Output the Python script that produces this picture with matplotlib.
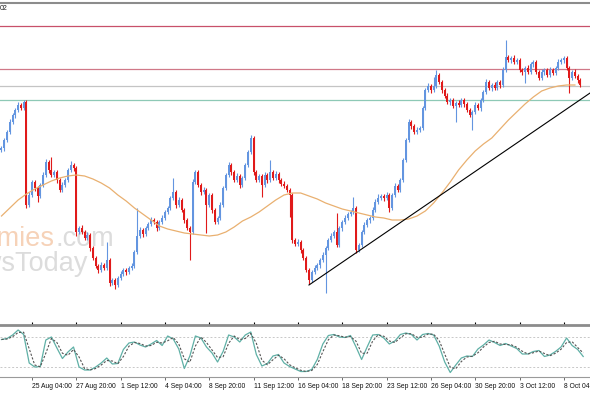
import numpy as np
import pandas as pd
import matplotlib
matplotlib.use("Agg")
import matplotlib.pyplot as plt
from matplotlib.transforms import blended_transform_factory

# ---------------- data (price levels, H4 bars) ----------------
first_open = 250
close = [
    252, 260, 268, 278, 285, 290, 295, 292, 298, 195,
    205, 218, 212, 204, 215, 225, 238, 230, 225, 228,
    220, 210, 215, 220, 230, 235, 232, 168, 172, 168,
    162, 165, 152, 142, 134, 130, 135, 132, 140, 117,
    120, 115, 122, 126, 130, 128, 132, 134, 148, 164,
    170, 166, 172, 176, 180, 178, 172, 178, 182, 188,
    192, 202, 208, 195, 200, 190, 180, 172, 168, 218,
    228, 215, 208, 210, 195, 205, 190, 178, 182, 195,
    212, 225, 235, 228, 220, 224, 215, 222, 235, 248,
    262, 228, 220, 224, 215, 225, 220, 228, 222, 226,
    220, 216, 214, 210, 205, 160, 156, 158, 150, 142,
    130, 120, 128, 132, 135, 140, 145, 152, 160, 164,
    168, 155, 172, 178, 182, 186, 188, 192, 150, 155,
    168, 175, 180, 182, 190, 198, 202, 204, 202, 205,
    192, 205, 214, 210, 220, 240, 260, 278, 274, 268,
    270, 272, 292, 310, 314, 310, 314, 325, 318, 310,
    304, 298, 300, 294, 297, 295, 300, 296, 290, 285,
    288, 295, 292, 300, 308, 318, 312, 315, 312, 318,
    315, 330, 343, 340, 342, 338, 340, 330, 328, 332,
    328, 336, 338, 328, 322, 328, 330, 325, 330, 327,
    332, 338, 340, 342, 332, 322, 328, 324, 320, 315,
]
up_wick = [
    2, 2, 2, 3, 2, 2, 3, 2, 2, 2,
    3, 2, 2, 2, 2, 3, 3, 2, 13, 2,
    2, 2, 3, 2, 2, 4, 2, 2, 2, 3,
    2, 3, 2, 2, 2, 2, 3, 2, 18, 2,
    2, 2, 2, 3, 2, 2, 2, 3, 2, 28,
    3, 2, 2, 2, 3, 2, 2, 2, 3, 2,
    2, 2, 14, 2, 3, 2, 2, 2, 2, 3,
    2, 2, 2, 3, 2, 2, 2, 2, 2, 3,
    2, 2, 3, 2, 2, 3, 2, 2, 2, 2,
    3, 2, 2, 2, 2, 3, 2, 12, 2, 3,
    2, 2, 3, 2, 2, 2, 2, 3, 2, 2,
    2, 2, 2, 3, 2, 2, 3, 2, 2, 3,
    2, 19, 2, 2, 3, 2, 2, 11, 2, 2,
    2, 3, 2, 2, 3, 3, 4, 2, 2, 3,
    2, 2, 3, 2, 2, 2, 2, 3, 2, 2,
    3, 2, 2, 2, 3, 2, 9, 5, 2, 2,
    2, 3, 2, 2, 2, 3, 2, 2, 2, 2,
    2, 3, 2, 2, 2, 3, 2, 2, 3, 2,
    2, 3, 17, 2, 2, 3, 2, 2, 2, 2,
    3, 2, 2, 2, 2, 3, 2, 2, 3, 2,
    2, 3, 2, 2, 2, 2, 2, 3, 2, 2,
]
down_wick = [
    2, 3, 2, 2, 2, 3, 2, 2, 2, 3,
    2, 2, 3, 6, 2, 2, 2, 3, 2, 2,
    3, 2, 2, 2, 2, 2, 3, 4, 2, 2,
    2, 2, 3, 2, 2, 3, 2, 2, 2, 3,
    2, 4, 2, 2, 2, 3, 2, 2, 2, 2,
    2, 3, 2, 2, 2, 2, 3, 2, 2, 2,
    2, 2, 2, 3, 2, 2, 3, 2, 28, 2,
    2, 2, 3, 2, 28, 2, 3, 2, 2, 2,
    2, 2, 2, 3, 2, 2, 3, 2, 2, 2,
    2, 3, 2, 2, 12, 2, 3, 2, 2, 2,
    3, 2, 2, 2, 22, 3, 2, 2, 3, 2,
    2, 4, 2, 2, 2, 3, 2, 38, 2, 2,
    2, 2, 2, 3, 2, 2, 2, 2, 3, 2,
    2, 2, 2, 3, 2, 2, 2, 2, 3, 2,
    4, 2, 2, 2, 2, 2, 2, 2, 3, 2,
    2, 2, 2, 2, 2, 3, 2, 2, 2, 3,
    2, 2, 3, 2, 16, 2, 2, 3, 2, 2,
    15, 2, 2, 3, 2, 2, 2, 3, 2, 2,
    3, 2, 2, 2, 3, 2, 2, 2, 3, 11,
    2, 2, 3, 2, 2, 2, 3, 2, 2, 2,
    2, 2, 2, 3, 2, 15, 2, 2, 3, 2,
]
# moving average, read every 3rd bar
ma_step = 3
ma_values = [
    184, 192, 200, 206, 211, 215, 219, 222, 224, 225,
    224, 221, 217, 212, 205, 199, 192, 186, 180, 174,
    171, 169, 167, 166, 165, 164, 165, 168, 173, 179,
    183, 188, 194, 200, 205, 207, 207, 204, 201, 197,
    194, 191, 189, 187, 185, 183, 182, 180, 180, 181,
    184, 189, 197, 207, 218, 230, 240, 249, 256, 262,
    271, 280, 288, 296, 303, 309, 312, 314, 315, 315,
]
# stochastic %K, read every 2nd bar
stoch_step = 2
stoch_k = [
    75, 77, 84, 94, 85, 28, 20, 21, 74, 80,
    58, 37, 50, 60, 20, 14, 14, 20, 28, 38,
    26, 27, 55, 68, 70, 64, 60, 66, 73, 63,
    82, 76, 56, 17, 42, 82, 78, 60, 48, 30,
    51, 84, 80, 70, 84, 90, 45, 22, 27, 42,
    45, 28, 21, 16, 11, 11, 15, 35, 66, 83,
    85, 80, 79, 83, 60, 35, 60, 84, 85, 78,
    66, 72, 85, 88, 85, 74, 85, 87, 84, 62,
    30, 9, 24, 38, 42, 41, 56, 64, 74, 69,
    63, 67, 62, 57, 46, 46, 51, 53, 41, 44,
    51, 60, 78, 63, 55, 41,
]
stoch_levels = [80, 20]
h_levels = [374, 331, 314, 300]
h_colors = ["#c8506a", "#d07888", "#c4c4c4", "#8ec9b6"]
trend_bars = [111, 213]
trend_vals = [115, 308]
tick_bars = [-5, 11, 27, 43, 59, 75, 91, 107, 123, 139, 155, 171, 187, 203]
tick_labels = ["20 Aug 12:00", "25 Aug 04:00", "27 Aug 20:00", "1 Sep 12:00",
               "4 Sep 04:00", "8 Sep 20:00", "11 Sep 12:00", "16 Sep 04:00",
               "18 Sep 20:00", "23 Sep 12:00", "26 Sep 04:00", "30 Sep 20:00",
               "3 Oct 12:00", "8 Oct 04:00"]

# ---------------- derived ----------------
close = np.array(close, dtype=float)
opn = np.concatenate([[first_open], close[:-1]])
high = np.maximum(opn, close) + np.array(up_wick)
low = np.minimum(opn, close) - np.array(down_wick)
x = np.arange(len(close))
bull = close >= opn

W, H = 590, 393
fig = plt.figure(figsize=(W / 100, H / 100), dpi=100)
plt.rcParams['font.family'] = ['Liberation Sans', 'DejaVu Sans']

def fy(px):
    return 1 - px / H

ax = fig.add_axes([0, fy(322), 1, (322 - 3) / H])
ax2 = fig.add_axes([0, fy(377), 1, (377 - 325) / H], sharex=ax)

xlim = (-0.54, 212.45)
ax.set_xlim(*xlim)
ax.set_ylim(78, 397)

BLUE = "#6395e0"
RED = "#e01a1a"
cols = np.where(bull, BLUE, RED)

# watermark
ax.text(55 / W, fy(239), "Economies", transform=fig.transFigure, ha="right", va="center",
        fontsize=19.5, color="#f6d2b8", zorder=0)
ax.text(56 / W, fy(239), ".com", transform=fig.transFigure, ha="left", va="center",
        fontsize=19.5, color="#dcdcdc", zorder=0)
ax.text(88 / W, fy(264), "NewsToday", transform=fig.transFigure, ha="right", va="center",
        fontsize=19.5, color="#dcdcdc", zorder=0)

for lv, c in zip(h_levels, h_colors):
    ax.axhline(lv, color=c, lw=0.9, zorder=1)

ax.vlines(x, low, high, colors=cols, lw=0.8, zorder=3)
body_bottom = np.minimum(opn, close)
body_h = np.maximum(np.abs(close - opn), 0.8)
ax.bar(x, body_h, bottom=body_bottom, width=0.72, color=cols, linewidth=0, zorder=3)

ma_x = np.arange(len(ma_values)) * ma_step
ax.plot(ma_x, ma_values, color="#e9b070", lw=0.9, zorder=4)
ax.plot(trend_bars, trend_vals, color="black", lw=0.8, zorder=5)

ax.set_xticks([])
ax.set_yticks([])
for s in ["left", "right", "bottom"]:
    ax.spines[s].set_visible(False)
ax.spines["top"].set_color("#8c8c8c")
ax.spines["top"].set_linewidth(1.5)

fig.text(0.0, fy(9), "02", fontsize=5, ha="left", va="center", color="#222222")

# stochastic
k = pd.Series(stoch_k, dtype=float)
d = k.rolling(2, min_periods=1).mean()
sx = np.arange(len(stoch_k)) * stoch_step
for lv in stoch_levels:
    ax2.axhline(lv, color="#c8c8c8", lw=0.7, ls=(0, (2, 2)))
ax2.plot(sx, k, color="#5fb0a6", lw=0.9)
ax2.plot(sx, d, color="#555555", lw=0.8, ls=(0, (2, 1.5)))
ax2.set_ylim(0, 104)
ax2.set_yticks([])
for s in ["left", "right"]:
    ax2.spines[s].set_visible(False)
ax2.spines["top"].set_color("#8c8c8c")
ax2.spines["top"].set_linewidth(2)
ax2.spines["bottom"].set_color("#9a9a9a")
ax2.spines["bottom"].set_linewidth(0.8)
ax2.set_xticks(tick_bars)
ax2.set_xticklabels(tick_labels)
ax2.tick_params(axis="x", length=2.5, width=0.6, color="#555555", pad=1.5,
                labelsize=4.9, labelcolor="#111111")
for lbl in ax2.get_xticklabels():
    lbl.set_horizontalalignment("left")
ax2.set_xlim(*xlim)

fig.savefig("out.png", dpi=100, facecolor="white")
